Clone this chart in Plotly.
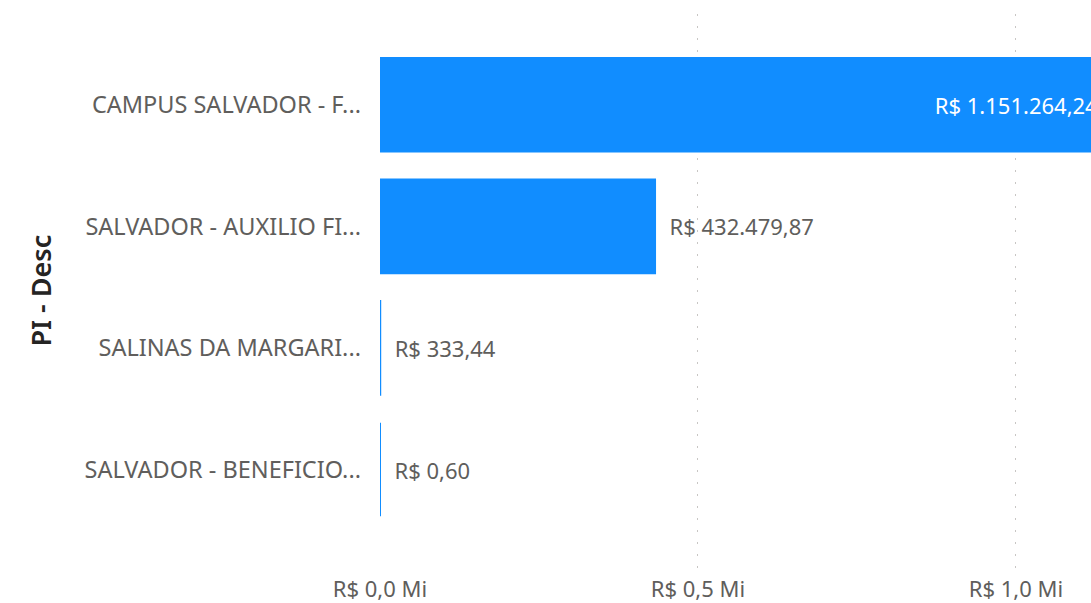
import plotly.graph_objects as go

# data
categories = [
    "CAMPUS SALVADOR - F...",
    "SALVADOR - AUXILIO FI...",
    "SALINAS DA MARGARI...",
    "SALVADOR - BENEFICIO...",
]
values = [1151264.24, 432479.87, 333.44, 0.60]
tick_vals = [0, 500000, 1000000]
tick_text = ["R$ 0,0 Mi", "R$ 0,5 Mi", "R$ 1,0 Mi"]

BAR_COLOR = "#118DFF"
LABEL_GRAY = "#605E5C"
FONT = "Noto Sans"
NBSP = "\u00a0"
FS = 22


def brl(v):
    s = f"{v:,.2f}"
    s = s.replace(",", "_").replace(".", ",").replace("_", ".")
    return "R$ " + s


pad = NBSP * 2
labels = []
positions = []
for i, v in enumerate(values):
    if i == 0:
        labels.append(brl(v) + pad)
        positions.append("inside")
    else:
        labels.append(pad + brl(v))
        positions.append("outside")

fig = go.Figure()
fig.add_trace(go.Bar(
    x=values,
    y=categories,
    orientation="h",
    marker=dict(color=BAR_COLOR, line=dict(color=BAR_COLOR, width=2)),
    text=labels,
    textposition=positions,
    insidetextanchor="end",
    insidetextfont=dict(color="white", size=FS, family=FONT),
    outsidetextfont=dict(color=LABEL_GRAY, size=FS, family=FONT),
    cliponaxis=True,
    hoverinfo="skip",
))

fig.update_layout(
    width=1091,
    height=603,
    margin=dict(l=380, r=0, t=14, b=33),
    paper_bgcolor="white",
    plot_bgcolor="white",
    bargap=0.23,
    showlegend=False,
    font=dict(family=FONT, size=FS, color=LABEL_GRAY),
    uniformtext=dict(minsize=8, mode=False),
)

fig.update_xaxes(
    range=[0, 1118000],
    tickvals=tick_vals,
    ticktext=tick_text,
    showgrid=True,
    gridcolor="#C8C6C4",
    gridwidth=1,
    griddash="2px,10px",
    zeroline=False,
    showline=False,
    ticks="",
    ticklabelstandoff=6,
    tickfont=dict(size=FS, color=LABEL_GRAY, family=FONT),
)

fig.update_yaxes(
    categoryorder="array",
    categoryarray=categories,
    range=[3.81, -0.746],
    showgrid=False,
    zeroline=False,
    showline=False,
    ticks="",
    ticklabelstandoff=18,
    tickfont=dict(size=23.5, color=LABEL_GRAY, family=FONT),
)

fig.add_annotation(
    text="PI - Desc",
    xref="paper", yref="paper",
    x=0, y=0.5,
    xshift=-361,
    textangle=-90,
    showarrow=False,
    font=dict(size=27, color="#252423", family=FONT, weight=600),
)

fig.write_html(
    "out.html",
    config={"displayModeBar": False},
    post_script="document.body.style.margin='0px';",
)
